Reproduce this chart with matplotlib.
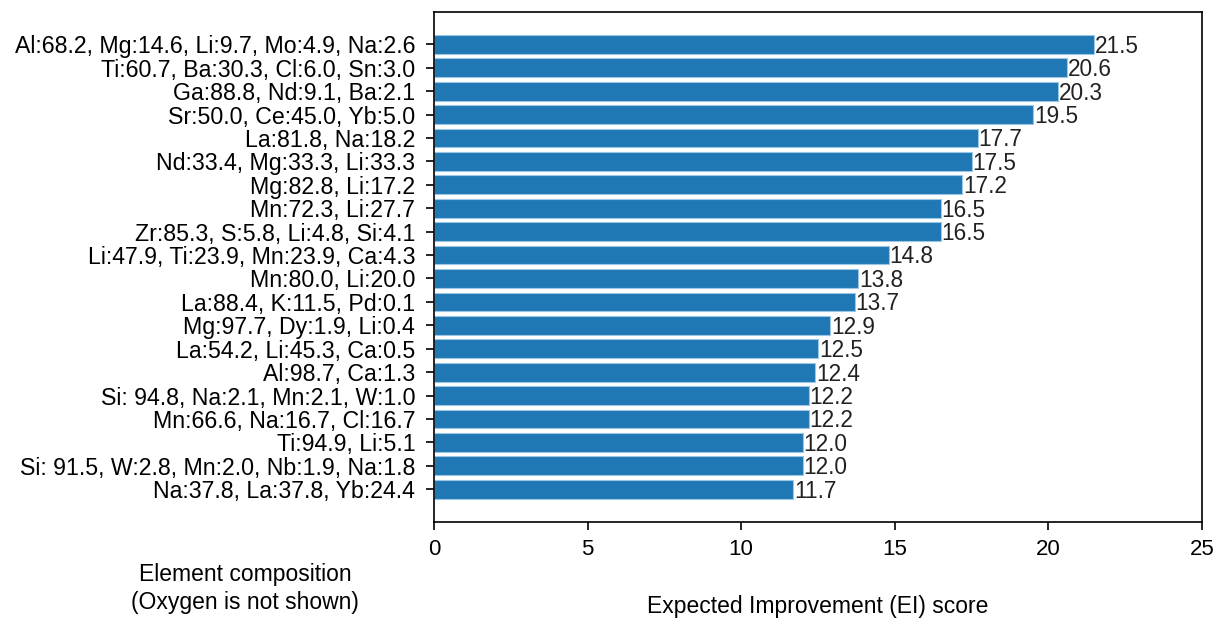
import matplotlib
matplotlib.use("Agg")
import matplotlib.pyplot as plt

plt.rcParams['font.family'] = ['Liberation Sans', 'DejaVu Sans']

# Candidate compositions (at.%, oxygen omitted), listed from highest to lowest score
compositions = [
    "Al:68.2, Mg:14.6, Li:9.7, Mo:4.9, Na:2.6",
    "Ti:60.7, Ba:30.3, Cl:6.0, Sn:3.0",
    "Ga:88.8, Nd:9.1, Ba:2.1",
    "Sr:50.0, Ce:45.0, Yb:5.0",
    "La:81.8, Na:18.2",
    "Nd:33.4, Mg:33.3, Li:33.3",
    "Mg:82.8, Li:17.2",
    "Mn:72.3, Li:27.7",
    "Zr:85.3, S:5.8, Li:4.8, Si:4.1",
    "Li:47.9, Ti:23.9, Mn:23.9, Ca:4.3",
    "Mn:80.0, Li:20.0",
    "La:88.4, K:11.5, Pd:0.1",
    "Mg:97.7, Dy:1.9, Li:0.4",
    "La:54.2, Li:45.3, Ca:0.5",
    "Al:98.7, Ca:1.3",
    "Si: 94.8, Na:2.1, Mn:2.1, W:1.0",
    "Mn:66.6, Na:16.7, Cl:16.7",
    "Ti:94.9, Li:5.1",
    "Si: 91.5, W:2.8, Mn:2.0, Nb:1.9, Na:1.8",
    "Na:37.8, La:37.8, Yb:24.4",
]
ei_scores = [21.5, 20.6, 20.3, 19.5, 17.7, 17.5, 17.2, 16.5, 16.5, 14.8,
             13.8, 13.7, 12.9, 12.5, 12.4, 12.2, 12.2, 12.0, 12.0, 11.7]
x_ticks = [0, 5, 10, 15, 20, 25]

fig = plt.figure(figsize=(12.19, 6.19), dpi=100)
ax = fig.add_axes([0.356, 0.157, 0.630, 0.824])

# lowest score at the bottom
labels = compositions[::-1]
values = ei_scores[::-1]
pos = list(range(len(values)))

ax.barh(pos, values, height=0.8, color='#1f77b4',
        edgecolor='#9cc6e6', linewidth=0.8)
for y, v in zip(pos, values):
    ax.text(v + 0.03, y - 0.08, f"{v:.1f}", va='center', ha='left',
            fontsize=16.3, color='#222222')

ax.set_yticks(pos)
ax.set_yticklabels(labels, fontsize=16.7)
ax.set_xlim(0, 25)
ax.set_xticks(x_ticks)
ax.set_xticklabels([str(t) for t in x_ticks], fontsize=16)
ax.tick_params(axis='both', length=5.5, width=1.2)
ax.tick_params(axis='x', pad=7)
ax.tick_params(axis='y', pad=8)
for s in ax.spines.values():
    s.set_linewidth(1.2)

ax.set_xlabel("Expected Improvement (EI) score", fontsize=16.5, labelpad=25)
fig.text(0.201, 0.008, "Element composition\n(Oxygen is not shown)",
         ha='center', va='bottom', fontsize=16.5, linespacing=1.3)

fig.savefig("out.png", dpi=100)
